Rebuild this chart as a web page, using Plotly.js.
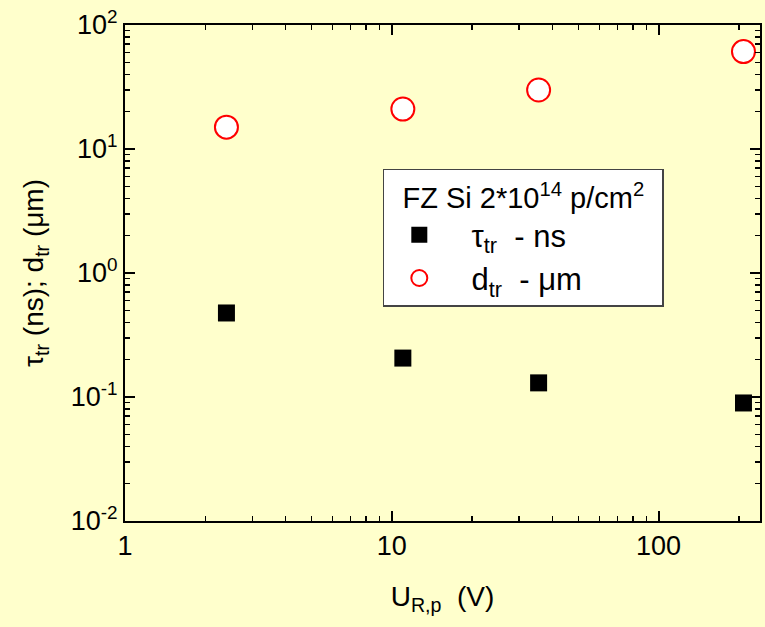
<!DOCTYPE html>
<html>
<head>
<meta charset="utf-8">
<script src="https://cdn.plot.ly/plotly-3.0.1.min.js"></script>
<style>html,body{margin:0;padding:0;background:#FFFFCC;}</style>
</head>
<body>
<div id="chart" style="width:765px;height:627px;"></div>
<script>
// Data
const voltage = [2.4, 11.0, 35.5, 208];
const tauTr = [0.476, 0.206, 0.130, 0.0895];   // ns
const dTr = [15.0, 21.0, 29.9, 61.0];          // um

const xTickVals = [1, 10, 100];
const xTickText = ['1', '10', '100'];
const yTickVals = [0.01, 0.1, 1, 10, 100];
const yTickText = ['10<sup>-2</sup>', '10<sup>-1</sup>', '10<sup>0</sup>', '10<sup>1</sup>', '10<sup>2</sup>'];

const legendTitle = '  FZ Si 2*10<sup>14</sup> p/cm<sup>2</sup>  ';
const tauName = '  τ<sub>tr</sub>  - ns';
const dName = '  d<sub>tr</sub>  - μm';

const font = 'Liberation Sans, Arial, sans-serif';

const traces = [
  {
    x: voltage, y: tauTr, name: tauName, type: 'scatter', mode: 'markers',
    marker: {symbol: 'square', size: 17, color: '#000000', line: {width: 0}},
    cliponaxis: false
  },
  {
    x: voltage, y: dTr, name: dName, type: 'scatter', mode: 'markers',
    marker: {symbol: 'circle', size: 23, color: '#FFFFFF', line: {color: '#FF0000', width: 2}},
    cliponaxis: false
  }
];

const axisCommon = {
  type: 'log',
  showline: true, linecolor: '#000', linewidth: 2,
  mirror: 'allticks',
  ticks: 'inside', ticklen: 10, tickwidth: 2, tickcolor: '#000',
  showgrid: false, zeroline: false,
  tickfont: {family: font, size: 27, color: '#000'},
  minor: {ticks: 'inside', ticklen: 5, tickwidth: 1.5, tickcolor: '#000', dtick: 'D1', showgrid: false}
};

const layout = {
  width: 765, height: 627,
  paper_bgcolor: '#FFFFCC', plot_bgcolor: '#FFFFCC',
  margin: {l: 125, r: 5, t: 25, b: 106},
  font: {family: font, color: '#000'},
  xaxis: Object.assign({}, axisCommon, {
    range: [0, 2.38],
    tickmode: 'array', tickvals: xTickVals, ticktext: xTickText,
    title: {text: 'U<sub>R,p</sub>  (V)', font: {family: font, size: 28}, standoff: 26}
  }),
  yaxis: Object.assign({}, axisCommon, {
    range: [-2, 2],
    tickmode: 'array', tickvals: yTickVals, ticktext: yTickText,
    title: {text: 'τ<sub>tr</sub> (ns); d<sub>tr</sub> (μm)', font: {family: font, size: 28}, standoff: 19}
  }),
  showlegend: true,
  legend: {
    x: 0.406, y: 0.71, xanchor: 'left', yanchor: 'top',
    bgcolor: '#FFFFFF', bordercolor: '#444444', borderwidth: 1.5,
    font: {family: font, size: 31, color: '#000'},
    title: {text: legendTitle, font: {family: font, size: 29, color: '#000'}},
    itemwidth: 60, tracegroupgap: 0
  }
};

Plotly.newPlot('chart', traces, layout, {displayModeBar: false, staticPlot: true});
</script>
</body>
</html>
